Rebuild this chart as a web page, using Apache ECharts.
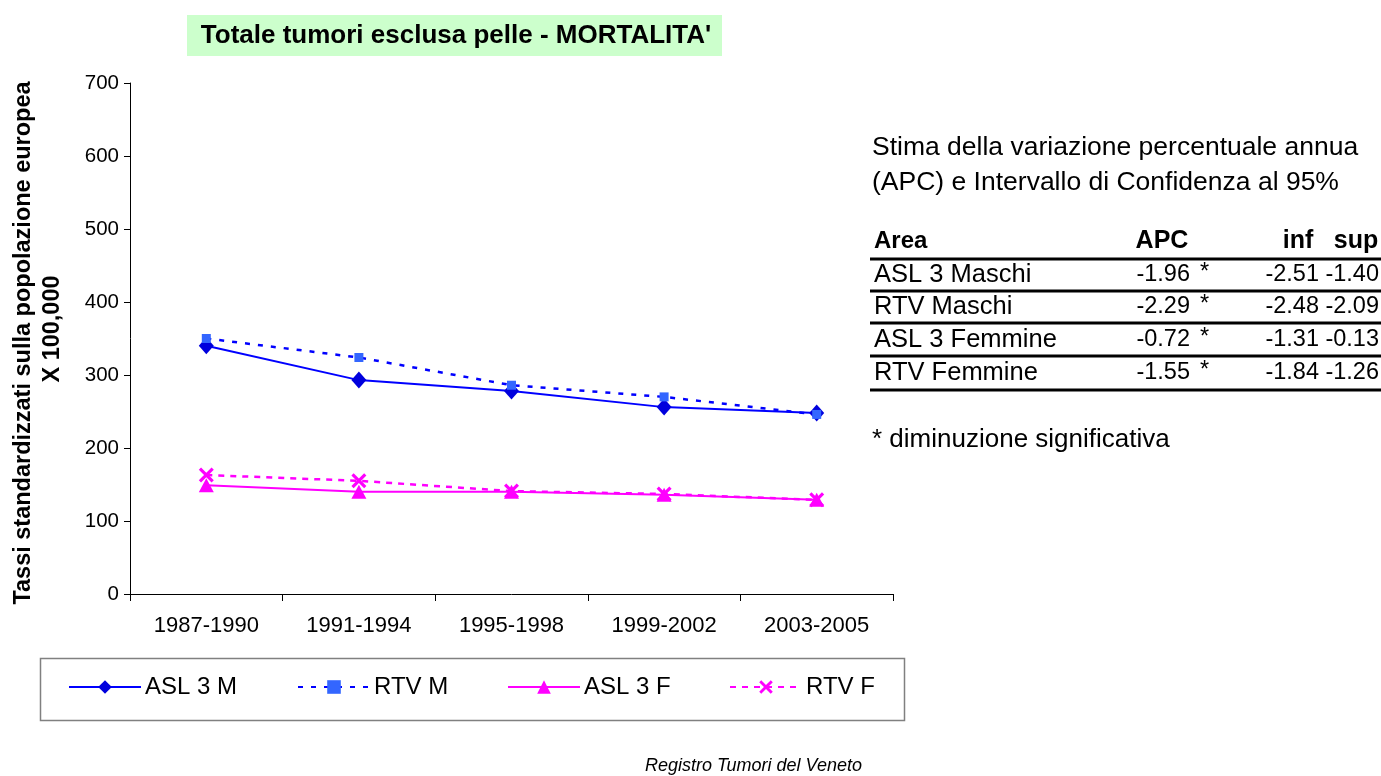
<!DOCTYPE html>
<html>
<head>
<meta charset="utf-8">
<script src="https://cdn.jsdelivr.net/npm/echarts@6/dist/echarts.min.js"></script>
<style>
html,body{margin:0;padding:0;background:#fff;}
#c{width:1381px;height:776px;}
</style>
</head>
<body>
<div id="c"></div>
<script>
var categories = ['1987-1990','1991-1994','1995-1998','1999-2002','2003-2005'];
var asl3M = [340, 293, 278, 256, 248];
var rtvM  = [350, 324, 286, 270, 246];
var asl3F = [149, 140, 140, 136, 129];
var rtvF  = [163, 155, 141, 137, 129];
var yTicks = [0,100,200,300,400,500,600,700];

var tableHeader = ['Area','APC','inf','sup'];
var tableAreas = ['ASL 3 Maschi','RTV Maschi','ASL 3 Femmine','RTV Femmine'];
var tableAPC = ['-1.96','-2.29','-0.72','-1.55'];
var tableSig = ['*','*','*','*'];
var tableInf = ['-2.51','-2.48','-1.31','-1.84'];
var tableSup = ['-1.40','-2.09','-0.13','-1.26'];

var FONT = '"Liberation Sans", Arial, sans-serif';
var chart = echarts.init(document.getElementById('c'));

var xPath = 'path://M0,1.5L1.5,0L5,3.5L8.5,0L10,1.5L6.5,5L10,8.5L8.5,10L5,6.5L1.5,10L0,8.5L3.5,5Z';

var g = [];
// title box
g.push({type:'rect', shape:{x:187,y:15,width:535,height:41}, style:{fill:'#CCFFCC'}, z:0});
g.push({type:'text', x:456, y:36, style:{text:"Totale tumori esclusa pelle - MORTALITA'", font:'bold 26px '+FONT, fill:'#000', align:'center', verticalAlign:'middle'}});
// y axis title
g.push({type:'text', x:24, y:343, rotation:Math.PI/2, style:{text:'Tassi standardizzati sulla popolazione europea', font:'bold 23.5px '+FONT, fill:'#000', align:'center', verticalAlign:'middle'}});
g.push({type:'text', x:53, y:329, rotation:Math.PI/2, style:{text:'X 100,000', font:'bold 23.5px '+FONT, fill:'#000', align:'center', verticalAlign:'middle'}});
// legend box
g.push({type:'rect', shape:{x:40.5,y:658.5,width:864,height:62}, style:{fill:'none', stroke:'#808080', lineWidth:1.5}});
// right text
g.push({type:'text', x:872, y:148, style:{text:'Stima della variazione percentuale annua', font:'26.5px '+FONT, fill:'#000', verticalAlign:'middle'}});
g.push({type:'text', x:872, y:183, style:{text:'(APC) e Intervallo di Confidenza al 95%', font:'26.5px '+FONT, fill:'#000', verticalAlign:'middle'}});
// table header
var hy = 241;
g.push({type:'text', x:874, y:hy, style:{text:tableHeader[0], font:'bold 24px '+FONT, fill:'#000', verticalAlign:'middle'}});
g.push({type:'text', x:1162, y:hy, style:{text:tableHeader[1], font:'bold 25px '+FONT, fill:'#000', align:'center', verticalAlign:'middle'}});
g.push({type:'text', x:1298, y:hy, style:{text:tableHeader[2], font:'bold 25px '+FONT, fill:'#000', align:'center', verticalAlign:'middle'}});
g.push({type:'text', x:1356, y:hy, style:{text:tableHeader[3], font:'bold 25px '+FONT, fill:'#000', align:'center', verticalAlign:'middle'}});
var lineYs = [259, 291, 323, 356, 390];
lineYs.forEach(function(y){
  g.push({type:'line', shape:{x1:870,y1:y,x2:1381,y2:y}, style:{stroke:'#000', lineWidth:3}});
});
var rowYs = [275, 307, 340, 373];
for (var i=0;i<tableAreas.length;i++){
  var y = rowYs[i];
  g.push({type:'text', x:874, y:y, style:{text:tableAreas[i], font:'25.5px '+FONT, fill:'#000', verticalAlign:'middle'}});
  g.push({type:'text', x:1190, y:y, style:{text:tableAPC[i], font:'23.5px '+FONT, fill:'#000', align:'right', verticalAlign:'middle'}});
  g.push({type:'text', x:1200, y:y-2, style:{text:tableSig[i], font:'23.5px '+FONT, fill:'#000', verticalAlign:'middle'}});
  g.push({type:'text', x:1319, y:y, style:{text:tableInf[i], font:'23.5px '+FONT, fill:'#000', align:'right', verticalAlign:'middle'}});
  g.push({type:'text', x:1379, y:y, style:{text:tableSup[i], font:'23.5px '+FONT, fill:'#000', align:'right', verticalAlign:'middle'}});
}
g.push({type:'text', x:872, y:440, style:{text:'* diminuzione significativa', font:'26px '+FONT, fill:'#000', verticalAlign:'middle'}});
g.push({type:'text', x:862, y:766, style:{text:'Registro Tumori del Veneto', font:'italic 18px '+FONT, fill:'#000', align:'right', verticalAlign:'middle'}});

function legend(name, left){
  return {data:[name], left:left, top:675, itemWidth:72, itemHeight:17, itemGap:0, padding:0,
    textStyle:{fontFamily:FONT, fontSize:24, color:'#000', padding:[0,0,0,-1]}, selectedMode:false};
}

chart.setOption({
  animation:false,
  backgroundColor:'#fff',
  grid:{left:130, top:83, width:763, height:511, containLabel:false},
  xAxis:{type:'category', data:categories, boundaryGap:true,
    axisLine:{lineStyle:{color:'#000', width:1}},
    axisTick:{show:true, length:7, lineStyle:{color:'#000'}},
    axisLabel:{fontFamily:FONT, fontSize:22, color:'#000', margin:21}},
  yAxis:{type:'value', min:0, max:700, interval:100,
    axisLine:{show:true, lineStyle:{color:'#000', width:1}},
    axisTick:{show:true, length:6, lineStyle:{color:'#000'}},
    splitLine:{show:false},
    axisLabel:{fontFamily:FONT, fontSize:20.5, color:'#000', margin:11}},
  legend:[legend('ASL 3 M',68), legend('RTV M',297), legend('ASL 3 F',507), legend('RTV F',729)],
  series:[
    {name:'ASL 3 M', type:'line', data:asl3M, symbol:'diamond', symbolSize:[15,17],
      lineStyle:{color:'#0000FF', width:2}, itemStyle:{color:'#0000DD'}},
    {name:'RTV M', type:'line', data:rtvM, symbol:'rect', symbolSize:9,
      lineStyle:{color:'#0000FF', width:2.5, type:[5,8]}, itemStyle:{color:'#3366FF'}},
    {name:'ASL 3 F', type:'line', data:asl3F, symbol:'triangle', symbolSize:[15,14],
      lineStyle:{color:'#FF00FF', width:2}, itemStyle:{color:'#FF00FF'}},
    {name:'RTV F', type:'line', data:rtvF, symbol:xPath, symbolSize:15,
      lineStyle:{color:'#FF00FF', width:2.5, type:[6,6]}, itemStyle:{color:'#FF00FF'}}
  ],
  graphic:g
});
</script>
</body>
</html>
